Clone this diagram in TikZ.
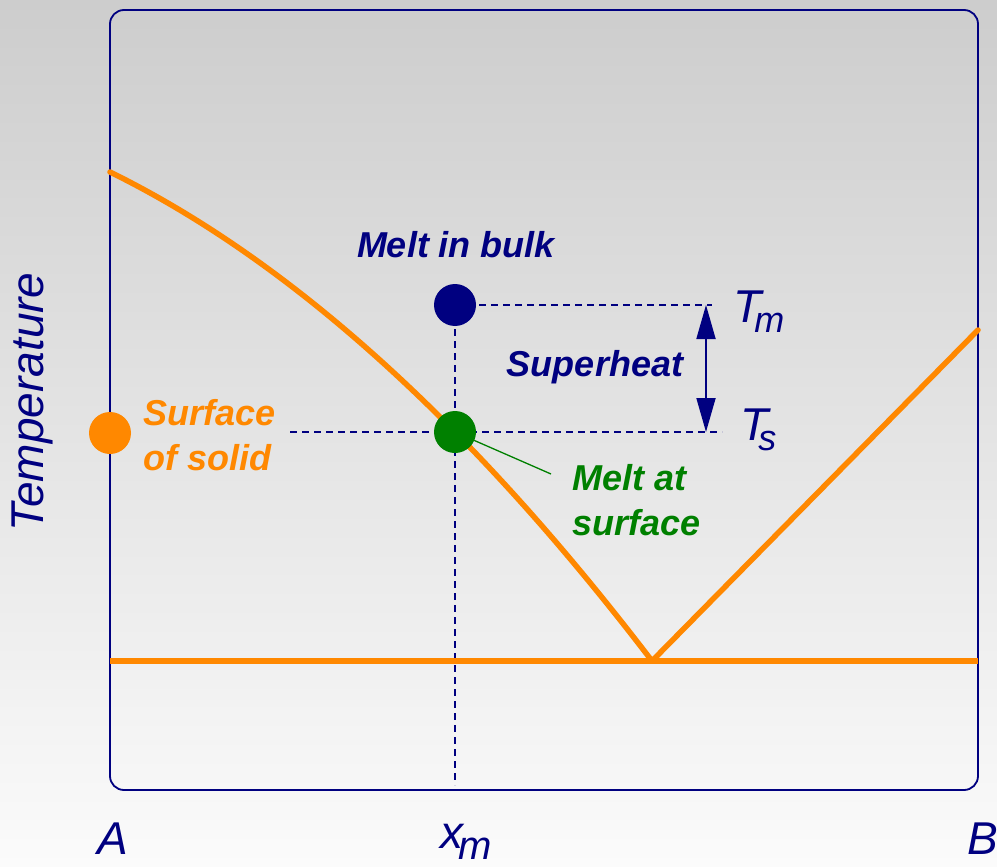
\documentclass[tikz,border=0pt]{standalone}
\usepackage{fontspec}
\setmainfont{Liberation Sans}
\usepackage{tikz}
\usetikzlibrary{arrows.meta,positioning}
\definecolor{navy}{HTML}{000080}
\definecolor{liq}{HTML}{FF8800}
\definecolor{surf}{HTML}{008000}
\definecolor{bgtop}{HTML}{CDCDCD}
\definecolor{bgbot}{HTML}{FBFBFB}

\begin{document}
\begin{tikzpicture}[x=1pt,y=-1pt,
  dot/.style={circle,fill=#1,minimum size=42pt,inner sep=0pt},
  guide/.style={draw=navy,line width=1.4pt,dash pattern=on 7pt off 5pt},
  phase/.style={draw=liq,line width=5.5pt,line cap=round,line join=round},
  lbl/.style={font=\fontsize{36}{45}\selectfont\bfseries\itshape,align=left,inner sep=0pt},
  ax/.style={font=\fontsize{46}{50}\selectfont\itshape,text=navy,inner sep=0pt},
  arr/.style={{Triangle[length=34pt,width=19pt]}-{Triangle[length=34pt,width=19pt]},draw=navy,line width=1.8pt}
]
\useasboundingbox (0,0) rectangle (997,867);
\fill[top color=bgtop,bottom color=bgbot] (0,0) rectangle (997,867);
\draw[navy,line width=1.8pt,rounded corners=14pt] (110,10) rectangle (978,790);
\coordinate (pbulk) at (455,305);
\coordinate (psurf) at (455,432);
\coordinate (psol) at (110,433);
\coordinate (tmend) at (712,305);
\coordinate (xbot) at (455,785);
\coordinate (tsstart) at (290,432);
\coordinate (tsend) at (722,432);
\coordinate (liqA) at (110,172);
\coordinate (eut) at (652,661);
\coordinate (liqB) at (978,330);
\coordinate (solA) at (110,661);
\coordinate (solB) at (978,661);
\coordinate (lead) at (551,474);
\coordinate (shtop) at (706,305);
\coordinate (shbot) at (706,432);
\draw[guide] (pbulk) -- (tmend);
\draw[guide] (pbulk) -- (xbot);
\draw[guide] (tsstart) -- (tsend);
\draw[arr] (shtop) -- (shbot);
\draw[phase,line cap=butt] (solA) -- (solB);
\draw[phase] (liqA) .. controls (291,261) and (471,424) .. (eut) -- (liqB);
\draw[surf,line width=1.3pt] (psurf) -- (lead);
\node[dot=navy] (bulk) at (pbulk) {};
\node[dot=surf] (surface) at (psurf) {};
\node[dot=liq] (solid) at (psol) {};
\node[lbl,text=navy] (bulktxt) at (456,245) {Melt in bulk};
\node[lbl,text=navy] (shtxt) at (595,367) {Superheat};
\node[lbl,text=liq,anchor=base west] (soltxt) at (143,470) {Surface\\of solid};
\node[lbl,text=surf,anchor=base west] (surftxt) at (572,535) {Melt at\\surface};
\node[ax,anchor=base west] (tm) at (733,322) {T\kern-7pt\raisebox{-10pt}{\fontsize{36}{36}\selectfont m}};
\node[ax,anchor=base west] (ts) at (740,440) {T\kern-10pt\raisebox{-10pt}{\fontsize{36}{36}\selectfont s}};
\node[ax,rotate=90] (temp) at (32,402) {Temperature};
\node[ax,anchor=base] (ptA) at (113,854) {A};
\node[ax,anchor=base] (ptx) at (466,848) {x\kern-5pt\raisebox{-11pt}{\fontsize{40}{40}\selectfont m}};
\node[ax,anchor=base west] (ptB) at (967,854) {B};
\end{tikzpicture}
\end{document}
